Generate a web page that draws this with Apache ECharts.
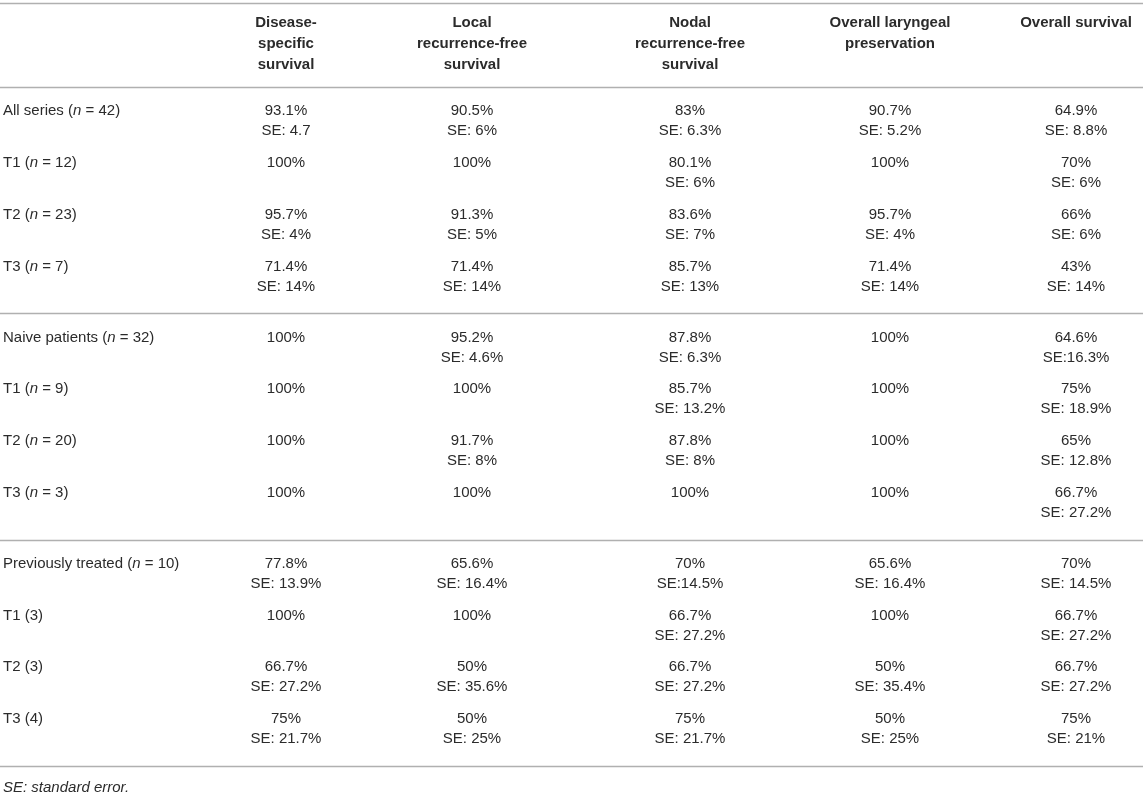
<!DOCTYPE html>
<html>
<head>
<meta charset="utf-8">
<script src="https://cdn.jsdelivr.net/npm/echarts@6/dist/echarts.min.js"></script>
<style>
html,body{margin:0;padding:0;background:#fff;}
#chart{width:1143px;height:798px;}
</style>
</head>
<body>
<div id="chart"></div>
<script>
// ---------- DATA ----------
const columnHeaders = [
  'Disease-\nspecific\nsurvival',
  'Local\nrecurrence-free\nsurvival',
  'Nodal\nrecurrence-free\nsurvival',
  'Overall laryngeal\npreservation',
  'Overall survival'
];
// row labels: [prefix, italic part, suffix]
const rowGroups = ['All series', 'Naive patients', 'Previously treated'];
const rowLabels = [
  ['All series (', 'n', ' = 42)'],
  ['T1 (', 'n', ' = 12)'],
  ['T2 (', 'n', ' = 23)'],
  ['T3 (', 'n', ' = 7)'],
  ['Naive patients (', 'n', ' = 32)'],
  ['T1 (', 'n', ' = 9)'],
  ['T2 (', 'n', ' = 20)'],
  ['T3 (', 'n', ' = 3)'],
  ['Previously treated (', 'n', ' = 10)'],
  ['T1 (3)', '', ''],
  ['T2 (3)', '', ''],
  ['T3 (4)', '', '']
];
const groupSizes = [4, 4, 4];

const diseaseSpecific = [93.1, 100, 95.7, 71.4, 100, 100, 100, 100, 77.8, 100, 66.7, 75];
const diseaseSpecificSE = ['SE: 4.7', '', 'SE: 4%', 'SE: 14%', '', '', '', '', 'SE: 13.9%', '', 'SE: 27.2%', 'SE: 21.7%'];

const localRecurrenceFree = [90.5, 100, 91.3, 71.4, 95.2, 100, 91.7, 100, 65.6, 100, 50, 50];
const localRecurrenceFreeSE = ['SE: 6%', '', 'SE: 5%', 'SE: 14%', 'SE: 4.6%', '', 'SE: 8%', '', 'SE: 16.4%', '', 'SE: 35.6%', 'SE: 25%'];

const nodalRecurrenceFree = [83, 80.1, 83.6, 85.7, 87.8, 85.7, 87.8, 100, 70, 66.7, 66.7, 75];
const nodalRecurrenceFreeSE = ['SE: 6.3%', 'SE: 6%', 'SE: 7%', 'SE: 13%', 'SE: 6.3%', 'SE: 13.2%', 'SE: 8%', '', 'SE:14.5%', 'SE: 27.2%', 'SE: 27.2%', 'SE: 21.7%'];

const laryngealPreservation = [90.7, 100, 95.7, 71.4, 100, 100, 100, 100, 65.6, 100, 50, 50];
const laryngealPreservationSE = ['SE: 5.2%', '', 'SE: 4%', 'SE: 14%', '', '', '', '', 'SE: 16.4%', '', 'SE: 35.4%', 'SE: 25%'];

const overallSurvival = [64.9, 70, 66, 43, 64.6, 75, 65, 66.7, 70, 66.7, 66.7, 75];
const overallSurvivalSE = ['SE: 8.8%', 'SE: 6%', 'SE: 6%', 'SE: 14%', 'SE:16.3%', 'SE: 18.9%', 'SE: 12.8%', 'SE: 27.2%', 'SE: 14.5%', 'SE: 27.2%', 'SE: 27.2%', 'SE: 21%'];

const footnote = 'SE: standard error.';

// ---------- LAYOUT ----------
const W = 1143, H = 798;
const colCenters = [286, 472, 690, 890, 1076];   // table column centres (px)
const labelX = 3;
const firstRowPx = 111;   // first text line of first body row
const rowPitch = 51.8;    // px per body row
const groupGap = 0.37;    // extra space between groups, in rows
const headerTopPx = 23, footnotePx = 788, topRulePx = 3;
const FONT = '"Liberation Sans", Arial, Helvetica, sans-serif';
const TEXT = '#2b2b2b', RULE = '#b0b0b0';

const toPos = px => (px - firstRowPx) / rowPitch;

const columns = [
  [diseaseSpecific, diseaseSpecificSE],
  [localRecurrenceFree, localRecurrenceFreeSE],
  [nodalRecurrenceFree, nodalRecurrenceFreeSE],
  [laryngealPreservation, laryngealPreservationSE],
  [overallSurvival, overallSurvivalSE]
];

// row positions
const rowPos = [];
const rulePos = [toPos(topRulePx)];
let idx = 0;
groupSizes.forEach((n, g) => {
  const start = idx + g * groupGap;
  if (g === 0) rulePos.push(start - 24 / rowPitch);
  for (let k = 0; k < n; k++) { rowPos.push(idx + g * groupGap); idx++; }
  rulePos.push(rowPos[rowPos.length - 1] + 47 / rowPitch);
});

// cells
const cellData = [];
columns.forEach(([vals, ses], c) => {
  vals.forEach((v, r) => {
    const t = v + '%' + (ses[r] ? '\n' + ses[r] : '');
    cellData.push([colCenters[c], rowPos[r], t]);
  });
});
const headerData = columnHeaders.map((h, c) => [colCenters[c], toPos(headerTopPx), h]);
const labelData = rowLabels.map((l, r) => [labelX, rowPos[r], l[0], l[1], l[2]]);

const chart = echarts.init(document.getElementById('chart'), null, {renderer: 'canvas'});
chart.setOption({
  backgroundColor: '#fff',
  animation: false,
  grid: {left: 0, right: 0, top: 0, bottom: 0},
  xAxis: {type: 'value', min: 0, max: W, show: false},
  yAxis: {type: 'value', inverse: true, min: toPos(0), max: toPos(H), show: false},
  series: [
    {
      type: 'custom', name: 'rules', silent: true,
      data: rulePos.map(p => [p]),
      renderItem: (params, api) => {
        const a = api.coord([0, api.value(0)]);
        const b = api.coord([W, api.value(0)]);
        const y = Math.round(a[1]) + 0.5;
        return {type: 'line', shape: {x1: a[0], y1: y, x2: b[0], y2: y},
          style: {stroke: RULE, lineWidth: 1.6}};
      }
    },
    {
      type: 'custom', name: 'header', silent: true,
      data: headerData,
      renderItem: (params, api) => {
        const d = headerData[params.dataIndex];
        const p = api.coord([d[0], d[1]]);
        return {type: 'text', x: p[0], y: p[1] - 10.5,
          style: {text: d[2], fill: TEXT, font: 'bold 15px ' + FONT, align: 'center', verticalAlign: 'top', lineHeight: 21}};
      }
    },
    {
      type: 'custom', name: 'cells', silent: true,
      data: cellData,
      renderItem: (params, api) => {
        const d = cellData[params.dataIndex];
        const p = api.coord([d[0], d[1]]);
        return {type: 'text', x: p[0], y: p[1] - 10,
          style: {text: d[2], fill: TEXT, font: '15px ' + FONT, align: 'center', verticalAlign: 'top', lineHeight: 20}};
      }
    },
    {
      type: 'custom', name: 'rowLabels', silent: true,
      data: labelData,
      renderItem: (params, api) => {
        const d = labelData[params.dataIndex];
        const p = api.coord([d[0], d[1]]);
        const txt = d[3] ? d[2] + '{i|' + d[3] + '}' + d[4] : d[2];
        return {type: 'text', x: p[0], y: p[1],
          style: {text: txt, fill: TEXT, font: '15px ' + FONT, align: 'left', verticalAlign: 'middle',
            rich: {i: {fontStyle: 'italic', fontSize: 15, fontFamily: FONT, fill: TEXT}}}};
      }
    },
    {
      type: 'custom', name: 'footnote', silent: true,
      data: [[labelX, toPos(footnotePx), footnote]],
      renderItem: (params, api) => {
        const p = api.coord([labelX, toPos(footnotePx)]);
        return {type: 'text', x: p[0], y: p[1],
          style: {text: footnote, fill: TEXT, font: 'italic 15px ' + FONT, align: 'left', verticalAlign: 'middle'}};
      }
    }
  ]
});
</script>
</body>
</html>
